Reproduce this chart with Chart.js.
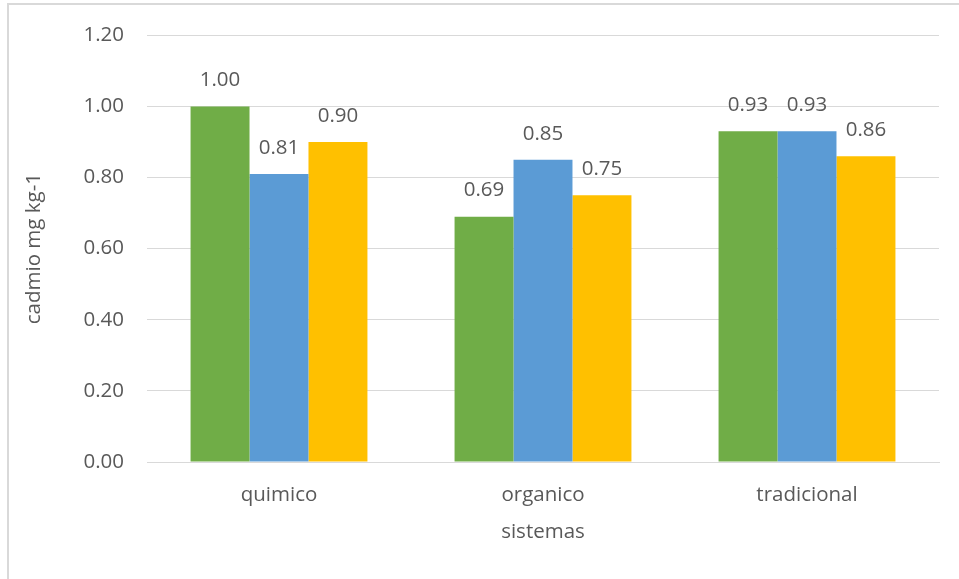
<!DOCTYPE html>
<html>
<head>
<meta charset="utf-8">
<script src="https://cdn.jsdelivr.net/npm/chart.js@4/dist/chart.umd.min.js"></script>
<style>
  html, body { margin: 0; padding: 0; background: #ffffff; }
  #wrap { position: relative; width: 959px; height: 579px; }
</style>
</head>
<body>
<div id="wrap"><canvas id="c" width="959" height="579"></canvas></div>
<script>
// Cadmium content by farming system
const categories = ['quimico', 'organico', 'tradicional'];
const serie1 = [1.00, 0.69, 0.93];
const serie2 = [0.81, 0.85, 0.93];
const serie3 = [0.90, 0.75, 0.86];
const yTicks = [0, 0.2, 0.4, 0.6, 0.8, 1.0, 1.2];

const textColor = '#595959';
const fontFamily = '"Open Sans", "Liberation Sans", sans-serif';
const fontSize = 20.5;

// light frame around the whole chart
const framePlugin = {
  id: 'frame',
  beforeDraw(chart) {
    const ctx = chart.ctx;
    ctx.save();
    ctx.strokeStyle = '#d9d9d9';
    ctx.lineWidth = 2;
    ctx.strokeRect(8, 4, 2000, 2000);
    ctx.restore();
  }
};

// value labels above each bar
const valueLabels = {
  id: 'valueLabels',
  afterDatasetsDraw(chart) {
    const ctx = chart.ctx;
    ctx.save();
    ctx.fillStyle = textColor;
    ctx.font = fontSize + 'px ' + fontFamily;
    ctx.textAlign = 'center';
    ctx.textBaseline = 'middle';
    chart.data.datasets.forEach((ds, i) => {
      chart.getDatasetMeta(i).data.forEach((bar, j) => {
        ctx.fillText(ds.data[j].toFixed(2), bar.x, bar.y - 26);
      });
    });
    ctx.restore();
  }
};

new Chart(document.getElementById('c'), {
  type: 'bar',
  data: {
    labels: categories,
    datasets: [
      { label: 'Serie 1', data: serie1, backgroundColor: '#70ad47' },
      { label: 'Serie 2', data: serie2, backgroundColor: '#5b9bd5' },
      { label: 'Serie 3', data: serie3, backgroundColor: '#ffc000' }
    ]
  },
  options: {
    responsive: false,
    animation: false,
    devicePixelRatio: 1,
    layout: { padding: { top: 33, right: 20, bottom: 0, left: 0 } },
    datasets: { bar: { categoryPercentage: 0.67, barPercentage: 1.0 } },
    plugins: { legend: { display: false }, tooltip: { enabled: false } },
    scales: {
      x: {
        grid: { display: false, drawTicks: false },
        border: { color: '#d9d9d9', width: 1 },
        ticks: { color: textColor, font: { family: fontFamily, size: fontSize }, padding: 21 },
        title: {
          display: true, text: 'sistemas', color: textColor,
          font: { family: fontFamily, size: fontSize },
          padding: { top: 0, bottom: 35 }
        },
        afterFit(scale) { scale.height = 117; }
      },
      y: {
        min: 0, max: 1.2,
        afterBuildTicks(scale) { scale.ticks = yTicks.map(v => ({ value: v })); },
        grid: { color: '#d9d9d9', lineWidth: 1, drawTicks: false },
        border: { display: false },
        ticks: {
          color: textColor, font: { family: fontFamily, size: fontSize }, padding: 23,
          callback: v => Number(v).toFixed(2)
        },
        title: {
          display: true, text: 'cadmio mg kg-1', color: textColor,
          font: { family: fontFamily, size: fontSize },
          padding: { top: 22, bottom: 0 }
        },
        afterFit(scale) { scale.width = 147; }
      }
    }
  },
  plugins: [framePlugin, valueLabels]
});
</script>
</body>
</html>
